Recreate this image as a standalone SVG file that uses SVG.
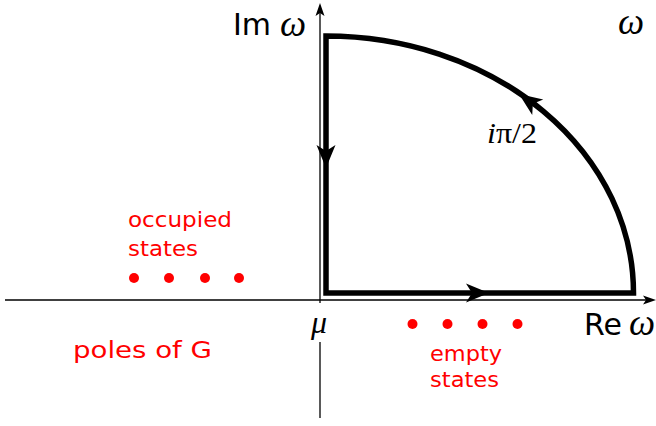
<svg xmlns="http://www.w3.org/2000/svg" width="656" height="426" viewBox="0 0 656 426">
<defs>
<style>
.axis{stroke:#000;stroke-width:1.3;fill:none}
.contour{stroke:#000;stroke-width:5.5;fill:none;stroke-linejoin:miter}
.sans{font-family:"DejaVu Sans",sans-serif;fill:#000}
.red{font-family:"DejaVu Sans",sans-serif;fill:#ff0000}
.ser{font-family:"Liberation Serif",serif;font-style:italic;fill:#000}
.dot{fill:#ff0000}
</style>
<path id="ah" d="M0,0 L-23,-9.5 L-17,0 L-23,9.5 Z" fill="#000"/>
<path id="axh" d="M0,0 L-13,-4.5 L-10,0 L-13,4.5 Z" fill="#000"/>
</defs>
<rect width="656" height="426" fill="#fff"/>
<g id="connectors">
<line class="axis" x1="5" y1="300" x2="648" y2="300"/>
<use href="#axh" transform="translate(656,300)"/>
<line class="axis" x1="320" y1="10" x2="320" y2="303"/>
<line class="axis" x1="320" y1="342" x2="320" y2="418"/>
<use href="#axh" transform="translate(320,3) rotate(-90)"/>
<path class="contour" d="M326,293 L326,36 A307.5,257 0 0 1 633.5,293 Z"/>
<use href="#ah" transform="translate(489,293)"/>
<use href="#ah" transform="translate(326,168) rotate(90)"/>
<use href="#ah" transform="translate(519,94) rotate(215.4)"/>
</g>
<g id="labels">
<text class="sans" x="233" y="35" font-size="30">Im</text>
<text class="ser" x="280" y="36" font-size="37">ω</text>
<text class="ser" x="618" y="34" font-size="37">ω</text>
<text class="sans" x="584" y="335" font-size="30">Re</text>
<text class="ser" x="629" y="335" font-size="37">ω</text>
<text class="ser" x="311" y="333" font-size="32">μ</text>
<text x="487" y="143" font-size="30" font-family="Liberation Serif,serif" textLength="50" lengthAdjust="spacingAndGlyphs"><tspan font-style="italic">i</tspan>π/2</text>
</g>
<g id="occupied">
<text class="red" x="128" y="227" font-size="21.5" textLength="104" lengthAdjust="spacingAndGlyphs">occupied</text>
<text class="red" x="128" y="256" font-size="21.5" textLength="70" lengthAdjust="spacingAndGlyphs">states</text>
<circle class="dot" cx="134" cy="278" r="5"/>
<circle class="dot" cx="169" cy="278" r="5"/>
<circle class="dot" cx="205" cy="278" r="5"/>
<circle class="dot" cx="239" cy="278" r="5"/>
</g>
<g id="empty">
<text class="red" x="430" y="361" font-size="21.5" textLength="72" lengthAdjust="spacingAndGlyphs">empty</text>
<text class="red" x="430" y="387" font-size="21.5" textLength="69" lengthAdjust="spacingAndGlyphs">states</text>
<circle class="dot" cx="412.5" cy="324" r="5"/>
<circle class="dot" cx="447.5" cy="324" r="5"/>
<circle class="dot" cx="482.5" cy="324" r="5"/>
<circle class="dot" cx="517.5" cy="324" r="5"/>
</g>
<g id="poles">
<text class="red" x="73" y="358" font-size="23.5" textLength="139" lengthAdjust="spacingAndGlyphs">poles of G</text>
</g>
</svg>
